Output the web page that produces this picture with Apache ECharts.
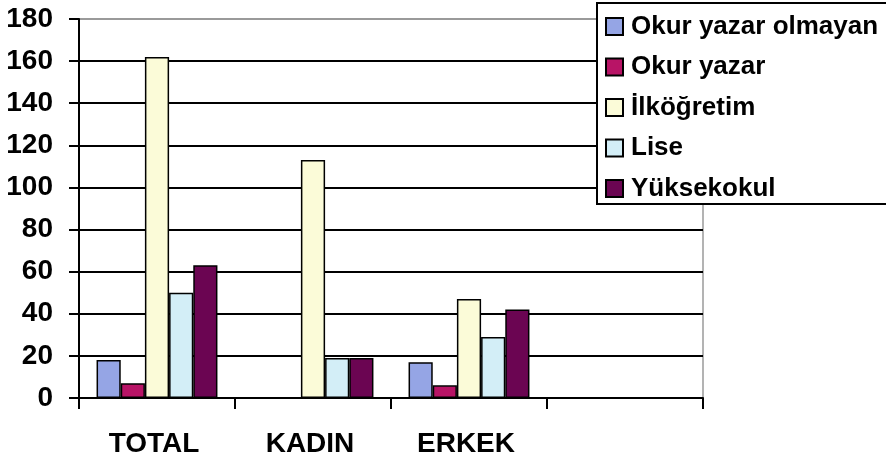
<!DOCTYPE html>
<html>
<head>
<meta charset="utf-8">
<title>Eğitim durumu</title>
<script src="https://cdn.jsdelivr.net/npm/echarts@6/dist/echarts.min.js"></script>
<style>
  html, body { margin: 0; padding: 0; background: #ffffff; }
  #chart { width: 886px; height: 461px; }
</style>
</head>
<body>
<div id="chart"></div>
<script>
// Groups on the category axis (the fourth slot is left empty)
const categories = ['TOTAL', 'KADIN', 'ERKEK', ''];

// Education level counts per group
const okurYazarOlmayan = [18, 0, 17, null];
const okurYazar        = [7, 0, 6, null];
const ilkogretim       = [162, 113, 47, null];
const lise             = [50, 19, 29, null];
const yuksekokul       = [63, 19, 42, null];

// Value axis ticks
const yMin = 0, yMax = 180, yStep = 20;

const seriesDefs = [
  { name: 'Okur yazar olmayan', data: okurYazarOlmayan, color: '#95a5e5' },
  { name: 'Okur yazar',         data: okurYazar,        color: '#b81466' },
  { name: 'İlköğretim',         data: ilkogretim,       color: '#fbfbd8' },
  { name: 'Lise',               data: lise,             color: '#d3eef7' },
  { name: 'Yüksekokul',         data: yuksekokul,       color: '#6b0552' }
];

const font = '"Liberation Sans", Arial, sans-serif';

// Black gridlines, the top one grey like the plot frame
const gridColors = [];
for (let v = yMin; v <= yMax; v += yStep) {
  gridColors.push(v === yMax ? '#9a9a9a' : '#000000');
}

const chart = echarts.init(document.getElementById('chart'), null, { renderer: 'canvas' });

chart.setOption({
  backgroundColor: '#ffffff',
  animation: false,
  grid: {
    left: 79, right: 183, top: 19, bottom: 63,
    show: true,
    borderColor: '#9a9a9a',
    borderWidth: 1.5,
    backgroundColor: 'transparent'
  },
  // Legend frame: runs off the right edge of the canvas
  graphic: [{
    type: 'rect',
    z: 10,
    shape: { x: 597, y: 3, width: 320, height: 201 },
    style: { fill: '#ffffff', stroke: '#000000', lineWidth: 2 }
  }],
  legend: {
    z: 20,
    orient: 'vertical',
    left: 597,
    top: 3,
    padding: [10, 0, 3, 8],
    itemWidth: 17,
    itemHeight: 17,
    itemGap: 13.5,
    borderWidth: 0,
    icon: 'rect',
    textStyle: {
      fontFamily: font,
      fontWeight: 'bold',
      fontSize: 26,
      lineHeight: 27,
      color: '#000000',
      padding: [0, 0, 0, 3]
    },
    data: seriesDefs.map(s => s.name)
  },
  xAxis: {
    type: 'category',
    data: categories,
    boundaryGap: true,
    axisLine: { lineStyle: { color: '#000000', width: 2 } },
    axisTick: { show: true, inside: false, length: 11, alignWithLabel: false, lineStyle: { color: '#000000', width: 2 } },
    axisLabel: {
      margin: 32,
      fontFamily: font,
      fontWeight: 'bold',
      fontSize: 28,
      color: '#000000',
      padding: [0, 6, 0, 0]
    },
    splitLine: { show: false }
  },
  yAxis: {
    type: 'value',
    min: yMin,
    max: yMax,
    interval: yStep,
    axisLine: { show: true, lineStyle: { color: '#000000', width: 2 } },
    axisTick: { show: true, inside: false, length: 10, lineStyle: { color: '#000000', width: 2 } },
    axisLabel: {
      margin: 26,
      fontFamily: font,
      fontWeight: 'bold',
      fontSize: 28,
      color: '#000000'
    },
    splitLine: { show: true, lineStyle: { color: gridColors, width: 2 } }
  },
  series: seriesDefs.map(s => ({
    name: s.name,
    type: 'bar',
    data: s.data,
    barGap: '0%',
    barCategoryGap: '22.5%',
    itemStyle: { color: s.color, borderColor: '#000000', borderWidth: 1.5 },
    emphasis: { disabled: true }
  }))
});
</script>
</body>
</html>
